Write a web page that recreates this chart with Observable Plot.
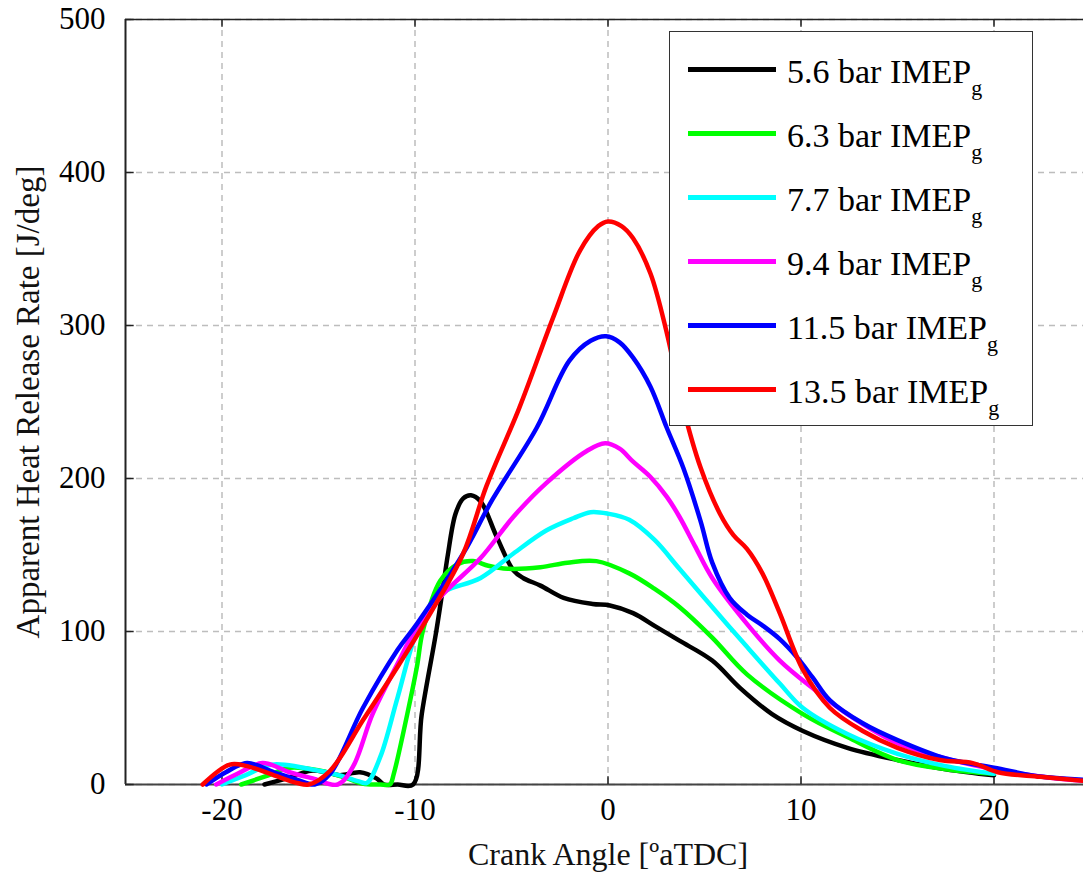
<!DOCTYPE html>
<html>
<head>
<meta charset="utf-8">
<script src="https://cdn.jsdelivr.net/npm/d3@7"></script>
<script src="https://cdn.jsdelivr.net/npm/@observablehq/plot@0.6"></script>
<style>
  html, body { margin: 0; padding: 0; background: white; }
  #wrap { position: relative; width: 1083px; height: 873px; overflow: hidden; font-family: "Liberation Serif", "Times New Roman", serif; }
  #chart svg text { font-family: "Liberation Serif", "Times New Roman", serif !important; font-variant-numeric: normal !important; }
  #legend { position: absolute; left: 669px; top: 31px; width: 364px; height: 395px; border: 1.5px solid #333; background: white; box-sizing: border-box; }
  .sw { position: absolute; left: 18px; width: 88px; height: 5px; }
  .lb { position: absolute; left: 117px; font-size: 34px; line-height: 34px; white-space: nowrap; color: #000; }
  .lb sub { font-size: 22px; vertical-align: -12px; line-height: 0; }
</style>
</head>
<body>
<div id="wrap"><div id="chart"></div><div id="legend"></div></div>
<script>
// ---- data ----
const seriesNames = ["5.6 bar IMEP", "6.3 bar IMEP", "7.7 bar IMEP", "9.4 bar IMEP", "11.5 bar IMEP", "13.5 bar IMEP"];
const seriesColors = ["#000000", "#00ff00", "#00ffff", "#ff00ff", "#0000ff", "#ff0000"];

const x56 = [-17.8, -16.4, -15.4, -14.6, -13.9, -12.85, -12.0, -11.6, -10.9, -10.1, -9.65, -8.9, -8.5, -8.3, -7.9, -7.5, -7.1, -6.6, -5.77, -4.9, -4.4, -3.5, -2.3, -0.8, 0.1, 1.3, 2.5, 3.7, 5.4, 6.85, 8.5, 10.1, 12.4, 15, 17.5, 20];
const y56 = [0, 5, 9, 8, 6, 8, 4, 0, 0, 0, 46, 100, 133, 150, 177, 187, 189, 185, 162, 140, 135, 130, 122, 118, 117, 112, 103, 94, 81, 63, 46, 35, 24, 16, 10, 6];

const x63 = [-19.0, -17.6, -16.5, -14.9, -13.5, -12.85, -12.3, -11.8, -11.3, -11.1, -10.4, -9.9, -9.6, -8.7, -7.8, -7.0, -6.2, -5.2, -3.5, -2.1, -0.6, 1.1, 2.4, 3.7, 5.4, 7.2, 10.1, 12.4, 15, 17.5, 20];
const y63 = [0, 6, 11, 9, 4, 1, 0, 0, 0, 7, 46, 77, 100, 133, 144, 146, 143, 141, 142, 145, 146, 138, 128, 116, 96, 72, 46, 31, 16, 10, 7];

const x77 = [-20.0, -18.8, -17.4, -15.4, -13.9, -12.9, -12.5, -11.8, -10.9, -9.9, -8.9, -8.35, -6.6, -4.9, -3.2, -1.8, -0.9, 0, 1.1, 2.4, 3.7, 5.4, 7.2, 8.9, 10.1, 12.4, 15, 17.5, 20];
const y77 = [0, 6, 13, 10, 6, 2, 1, 18, 57, 100, 122, 127, 135, 151, 166, 174, 178, 177, 173, 160, 141, 116, 90, 66, 50, 33, 20, 12, 7];

const x94 = [-20.3, -19.2, -17.9, -16.5, -15.3, -14.0, -13.2, -12.2, -10.9, -9.9, -8.5, -6.6, -4.9, -3.2, -1.1, -0.15, 0.6, 1.3, 2.2, 3.05, 3.7, 4.5, 5.4, 7.2, 8.9, 10.6, 12.4, 15, 17.5, 20, 22.5, 25];
const y94 = [0, 7, 14, 8, 4, 0, 12, 46, 79, 103, 125, 148, 175, 197, 218, 223, 219.5, 211, 201, 188, 175, 156, 135, 105, 81, 63, 46, 27, 17, 10, 5, 2];

const x115 = [-20.8, -19.8, -18.7, -17.3, -16.1, -15.2, -14.4, -12.7, -10.9, -9.9, -7.5, -6.0, -3.7, -2.0, -0.9, -0.1, 0.6, 1.3, 2.2, 3.05, 3.9, 4.8, 5.4, 6.3, 7.2, 8.0, 8.9, 9.8, 10.6, 11.5, 13.2, 15, 17.5, 20, 22.5, 25];
const y115 = [0, 8, 14, 8, 3, 0, 7, 50, 88, 105, 151, 186, 233, 277, 290, 293, 289, 279, 260, 233, 207, 172, 145, 122, 111, 104, 95, 83, 70, 55, 40, 29, 17, 11, 5, 3];

const x135 = [-21.0, -19.6, -18.7, -17.3, -16.1, -15.5, -14.4, -12.7, -10.9, -9.2, -7.5, -6.3, -4.6, -2.85, -1.45, -0.5, 0, 0.7, 1.3, 2.2, 3.05, 3.9, 4.8, 5.8, 6.5, 7.2, 8.0, 8.9, 10.1, 11.5, 13.2, 15, 17.2, 18.9, 20.2, 22.4, 25];
const y135 = [0, 13, 12, 6, 1, 0, 9, 42, 77, 112, 151, 195, 246, 305, 349, 365, 368, 365, 357, 334, 295, 246, 207, 177, 163, 154, 138, 112, 75, 50, 35, 24, 16, 14, 8, 5, 2];

const xTicks = [-20, -10, 0, 10, 20];
const yTicks = [0, 100, 200, 300, 400, 500];
const xLabel = "Crank Angle [ºaTDC]";
const yLabel = "Apparent Heat Release Rate [J/deg]";

// ---- build table ----
const xsAll = [x56, x63, x77, x94, x115, x135];
const ysAll = [y56, y63, y77, y94, y115, y135];
const rows = [];
xsAll.forEach((xs, i) => xs.forEach((x, j) => rows.push({series: seriesNames[i], order: i, x, y: ysAll[i][j]})));

const serif = "'Liberation Serif', 'Times New Roman', serif";
const chart = Plot.plot({
  width: 1083,
  height: 873,
  marginLeft: 125,
  marginTop: 19,
  marginBottom: 89,
  marginRight: 0,
  style: {fontFamily: serif, background: "white", color: "black"},
  x: {domain: [-25, 25], range: [125, 1090]},
  y: {domain: [0, 500], range: [784, 19]},
  color: {domain: seriesNames, range: seriesColors},
  marks: [
    Plot.ruleX(xTicks, {stroke: "#bdbdbd", strokeWidth: 1.5, strokeDasharray: "6,5"}),
    Plot.ruleY(yTicks, {stroke: "#bdbdbd", strokeWidth: 1.5, strokeDasharray: "6,5"}),
    Plot.ruleY([500], {stroke: "#222", strokeWidth: 1.5}),
    Plot.ruleX([-25], {stroke: "#222", strokeWidth: 2}),
    Plot.ruleY([0], {stroke: "#444", strokeWidth: 2}),
    // inward ticks
    Plot.ruleX(xTicks, {y1: 0, y2: 5, stroke: "#222", strokeWidth: 1.5}),
    Plot.ruleX(xTicks, {y1: 500, y2: 495, stroke: "#222", strokeWidth: 1.5}),
    Plot.ruleY(yTicks, {x1: -25, x2: -24.55, stroke: "#222", strokeWidth: 1.5}),
    Plot.line(rows, {x: "x", y: "y", z: "series", stroke: "series", strokeWidth: 4.5, curve: "catmull-rom"}),
    Plot.axisX(xTicks, {tickSize: 0, tickPadding: 13, fontSize: 31, fontFamily: serif, tickFormat: d => String(d), label: null}),
    Plot.axisY(yTicks, {tickSize: 0, tickPadding: 20, fontSize: 31, fontFamily: serif, tickFormat: d => String(d), label: null}),
    Plot.text([xLabel], {x: 0, frameAnchor: "bottom", lineAnchor: "middle", dy: 70, fontSize: 32, fontFamily: serif, fill: "#111"}),
    Plot.text([yLabel], {frameAnchor: "left", textAnchor: "middle", lineAnchor: "middle", dx: -97, rotate: -90, fontSize: 33, fontFamily: serif, fill: "#111"})
  ]
});
document.getElementById("chart").appendChild(chart);

// ---- legend (HTML overlay) ----
const legend = document.getElementById("legend");
const rowCenters = [37.5, 101.4, 165.3, 229.2, 293.1, 357];
seriesNames.forEach((name, i) => {
  const sw = document.createElement("div");
  sw.className = "sw";
  sw.style.top = (rowCenters[i] - 2.5) + "px";
  sw.style.background = seriesColors[i];
  legend.appendChild(sw);
  const lb = document.createElement("div");
  lb.className = "lb";
  lb.style.top = (rowCenters[i] + 14.3 - 28.5) + "px";
  lb.innerHTML = name + "<sub>g</sub>";
  legend.appendChild(lb);
});
</script>
</body>
</html>
